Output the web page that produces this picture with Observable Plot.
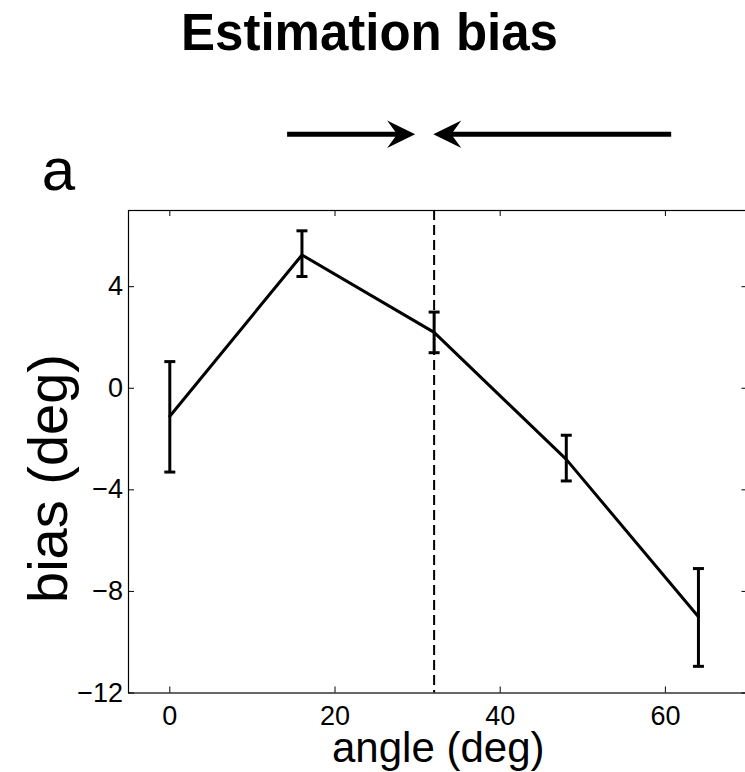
<!DOCTYPE html>
<html><head><meta charset="utf-8">
<script src="https://cdn.jsdelivr.net/npm/d3@7"></script>
<script src="https://cdn.jsdelivr.net/npm/@observablehq/plot@0.6"></script>
<style>
html,body{margin:0;padding:0;overflow:hidden;background:#fff;}
#chart{width:745px;height:772px;}
</style></head><body><div id="chart"></div>
<script>
// ---- data ----
const angles   = [0, 16, 32, 48, 64];
const bias     = [-1.1, 5.25, 2.2, -2.8, -9.0];
const biasLow  = [-3.3, 4.4, 1.4, -3.65, -10.95];
const biasHigh = [1.05, 6.2, 3.0, -1.85, -7.1];
const refAngle = [32];
const xTicks = [0, 20, 40, 60];
const yTicks = [-12, -8, -4, 0, 4];
const arrowTails = [14.2, 60.7];
const arrowTips  = [29.7, 31.9];
const arrowLevel = [10];
const titleText = ["Estimation bias"];
const panelText = ["a"];
const xLabelText = ["angle (deg)"];
const yLabelText = ["bias (deg)"];

const W = 745, H = 772;
const mL = 128, mT = 210, mR = -2.5, mB = 79.5;
const innerW = W - mL - mR, innerH = H - mT - mB;

const points = angles.map((a, i) => ({angle: a, bias: bias[i], lo: biasLow[i], hi: biasHigh[i]}));
const arrows = arrowTails.map((t, i) => ({tail: t, tip: arrowTips[i], dir: Math.sign(arrowTips[i] - t), y: arrowLevel[0]}));

const capSymbol = {draw(ctx) { ctx.moveTo(-5.5, 0); ctx.lineTo(5.5, 0); }};
const headRight = {draw(ctx) { ctx.moveTo(0, 0); ctx.lineTo(-28, -13.7); ctx.lineTo(-18, 0); ctx.lineTo(-28, 13.7); ctx.closePath(); }};
const headLeft  = {draw(ctx) { ctx.moveTo(0, 0); ctx.lineTo(28, -13.7); ctx.lineTo(18, 0); ctx.lineTo(28, 13.7); ctx.closePath(); }};

const chart = Plot.plot({
  width: W, height: H,
  marginLeft: mL, marginTop: mT, marginRight: mR, marginBottom: mB,
  style: {fontFamily: "'Liberation Sans', Arial, Helvetica, sans-serif", fontSize: "27px", color: "black", background: "white"},
  x: {domain: [-5, 70]},
  y: {domain: [-12, 7]},
  marks: [
    Plot.frame({stroke: "black", strokeWidth: 1.2}),
    // inward ticks on all four sides
    Plot.tickX(xTicks, {x: d => d, insetTop: innerH - 6, stroke: "black", strokeWidth: 1}),
    Plot.tickX(xTicks, {x: d => d, insetBottom: innerH - 6, stroke: "black", strokeWidth: 1}),
    Plot.tickY(yTicks, {y: d => d, insetRight: innerW - 6, stroke: "black", strokeWidth: 1}),
    Plot.tickY(yTicks, {y: d => d, insetLeft: innerW - 6, stroke: "black", strokeWidth: 1}),
    Plot.axisX({ticks: xTicks, tickSize: 0, tickPadding: 12.5, label: null, fontSize: 27}),
    Plot.axisY({ticks: yTicks, tickSize: 0, tickPadding: 5.5, label: null, fontSize: 27}),
    // reference line
    Plot.ruleX(refAngle, {x: d => d, stroke: "black", strokeWidth: 2, strokeDasharray: "10,5"}),
    // data
    Plot.line(points, {x: "angle", y: "bias", stroke: "black", strokeWidth: 3}),
    Plot.ruleX(points, {x: "angle", y1: "lo", y2: "hi", stroke: "black", strokeWidth: 3}),
    Plot.dot(points, {x: "angle", y: "lo", symbol: capSymbol, stroke: "black", fill: "none", strokeWidth: 3}),
    Plot.dot(points, {x: "angle", y: "hi", symbol: capSymbol, stroke: "black", fill: "none", strokeWidth: 3}),
    // arrows above the plot
    Plot.link(arrows, {x1: "tail", x2: d => d.tip - 2 * d.dir, y1: "y", y2: "y", stroke: "black", strokeWidth: 5}),
    Plot.dot(arrows.filter(d => d.dir > 0), {x: "tip", y: "y", symbol: headRight, fill: "black", stroke: "none"}),
    Plot.dot(arrows.filter(d => d.dir < 0), {x: "tip", y: "y", symbol: headLeft, fill: "black", stroke: "none"}),
    // texts
    Plot.text(titleText, {frameAnchor: "top", dx: -68.75, dy: -160.7, lineAnchor: "bottom", fontSize: 51, fontWeight: "bold", fill: "black"}),
    Plot.text(panelText, {frameAnchor: "top-left", dx: -70, dy: -20.5, lineAnchor: "bottom", textAnchor: "middle", fontSize: 60, fill: "black"}),
    Plot.text(xLabelText, {frameAnchor: "bottom", dx: 0, dy: 68.5, lineAnchor: "bottom", fontSize: 42, fill: "black"}),
    Plot.text(yLabelText, {frameAnchor: "left", dx: -61.3, dy: 26.75, rotate: -90, lineAnchor: "bottom", textAnchor: "middle", fontSize: 56, fill: "black"})
  ]
});
document.getElementById("chart").appendChild(chart);
</script></body></html>
